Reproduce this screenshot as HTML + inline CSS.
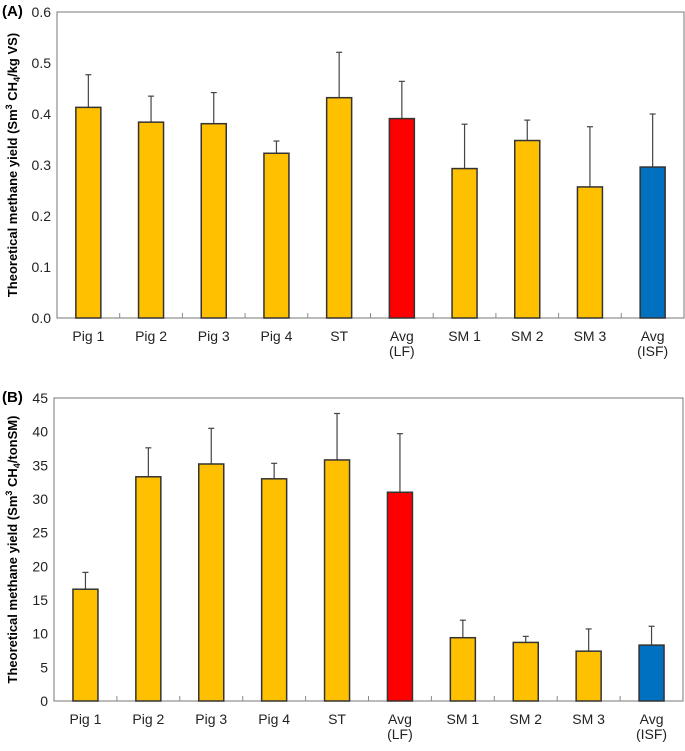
<!DOCTYPE html>
<html><head><meta charset="utf-8"><style>
body{margin:0;background:#fff}
svg text{font-family:"Liberation Sans",Arial,sans-serif}
</style></head><body>
<svg id="chart" width="685" height="746" xmlns="http://www.w3.org/2000/svg"></svg>
<script>
const categories=["Pig 1","Pig 2","Pig 3","Pig 4","ST","Avg|(LF)","SM 1","SM 2","SM 3","Avg|(ISF)"];
const barColors=["#ffc000","#ffc000","#ffc000","#ffc000","#ffc000","#ff0000","#ffc000","#ffc000","#ffc000","#0070c0"];
const valuesA=[0.413,0.384,0.381,0.323,0.432,0.391,0.293,0.348,0.257,0.296];
const errTopA=[0.477,0.435,0.442,0.347,0.521,0.464,0.380,0.388,0.375,0.400];
const ticksA=["0.0","0.1","0.2","0.3","0.4","0.5","0.6"];
const valuesB=[16.6,33.3,35.2,33.0,35.8,31.0,9.4,8.7,7.4,8.3];
const errTopB=[19.1,37.6,40.5,35.3,42.7,39.7,12.0,9.6,10.7,11.1];
const ticksB=["0","5","10","15","20","25","30","35","40","45"];

const svg=document.getElementById('chart');
const NS="http://www.w3.org/2000/svg";
function mk(tag,attrs,parent){const e=document.createElementNS(NS,tag);for(const k in attrs)e.setAttribute(k,attrs[k]);(parent||svg).appendChild(e);return e;}

function panel(id,label,L,R,T,B,max,ticks,vals,errs,titleUnit){
  const g=mk('g',{});
  
  
  const n=categories.length, step=(R-L)/n;
  const x=i=>L+step*(i+0.5);
  const y=v=>B-(v/max)*(B-T);
  const pl=mk('text',{x:2,y:T+4,'font-size':15,'font-weight':'bold',fill:'#000'},g);pl.textContent='('+label+')';
  
  
  const fr=mk('rect',{x:L,y:T,width:R-L,height:B-T,fill:'none',stroke:'#777','stroke-width':1},g);
  
  
  ticks.forEach(t=>{
    const tx=mk('text',{x:L-6,y:y(parseFloat(t))+5,'font-size':14,'text-anchor':'end',fill:'#222'},g);tx.textContent=t;
    
    
  });
  for(let i=1;i<n;i++){const s=mk('line',{x1:L+step*i,x2:L+step*i,y1:B,y2:B-5,stroke:'#888'},g);
    
    }
  vals.forEach((v,i)=>{
    const cx=x(i);
    const el=mk('line',{x1:cx,x2:cx,y1:y(v),y2:y(errs[i]),stroke:'#444','stroke-width':1.2},g);
    
    
    const cap=mk('line',{x1:cx-3,x2:cx+3,y1:y(errs[i]),y2:y(errs[i]),stroke:'#444','stroke-width':1.2},g);
    
    
    const r=mk('rect',{x:cx-12.5,y:y(v),width:25,height:B-y(v),fill:barColors[i],stroke:'#333','stroke-width':1.5},g);
    
    
    categories[i].split('|').forEach((ln,j)=>{
      const t=mk('text',{x:cx,y:B+23+j*15,'font-size':14,'text-anchor':'middle',fill:'#222'},g);t.textContent=ln;
      
      
    });
  });
  const cy=(T+B)/2;
  const tt=mk('text',{x:0,y:0,'font-size':13,'font-weight':'bold','text-anchor':'middle',transform:`translate(17,${cy}) rotate(-90)`,fill:'#000'},g);
  tt.innerHTML='Theoretical methane yield (Sm<tspan dy="-5" font-size="9">3</tspan><tspan dy="5"> CH</tspan><tspan dy="3" font-size="9">4</tspan><tspan dy="-3">'+titleUnit+')</tspan>';
  
  
}
panel('a','A',57,684,12,318,0.6,ticksA,valuesA,errTopA,'/kg VS');
panel('b','B',54,683,398,701,45,ticksB,valuesB,errTopB,'/tonSM');
</script>
</body></html>
